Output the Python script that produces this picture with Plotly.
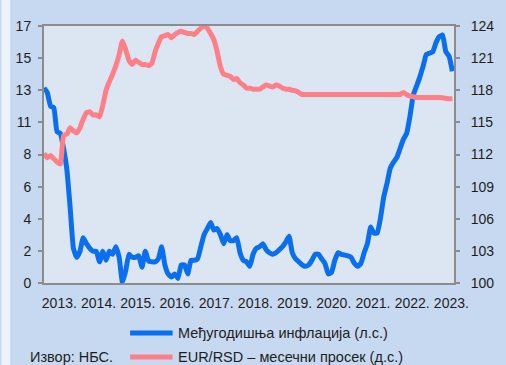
import plotly.graph_objects as go

years = ["2013.", "2014.", "2015.", "2016.", "2017.", "2018.", "2019.", "2020.", "2021.", "2022.", "2023."]

# monthly, Jan 2013 - Jun 2023
inflation = [
    12.9, 12.6, 11.7, 11.6, 10.0, 9.9, 8.9, 7.5, 5.0, 2.3, 1.7, 2.1,
    3.0, 2.6, 2.3, 2.1, 2.1, 1.4, 2.1, 1.5, 2.1, 1.9, 2.4, 1.7,
    0.05, 0.8, 1.9, 1.7, 1.7, 1.8, 1.05, 2.1, 1.45, 1.4, 1.4, 1.6,
    2.4, 1.2, 0.6, 0.4, 0.6, 0.3, 1.2, 1.2, 0.6, 1.5, 1.5, 1.6,
    2.4, 3.2, 3.6, 4.0, 3.5, 3.6, 3.2, 2.6, 3.2, 2.8, 2.8, 3.0,
    2.0, 1.5, 1.4, 1.1, 1.9, 2.3, 2.4, 2.6, 2.2, 2.0, 1.9, 2.0,
    2.2, 2.4, 2.7, 3.1, 2.0, 1.6, 1.4, 1.2, 1.1, 1.2, 1.5, 1.9,
    1.9, 1.6, 1.3, 0.6, 0.7, 1.5, 2.0, 1.9, 1.85, 1.8, 1.7, 1.3,
    1.1, 1.3, 2.0, 2.6, 3.7, 3.3, 3.3, 4.3, 5.7, 6.6, 7.6, 8.0,
    8.3, 8.9, 9.5, 9.9, 11.0, 12.4, 13.0, 13.6, 14.3, 15.1, 15.2, 15.3,
    15.9, 16.3, 16.4, 15.3, 15.0, 14.0,
]

eur_rsd = [
    112.1, 111.7, 111.9, 111.6, 111.3, 111.1, 113.8, 113.9, 114.5, 114.2, 114.0, 114.5,
    115.3, 115.9, 116.0, 115.7, 115.7, 115.5, 116.6, 118.0, 118.8, 119.5, 120.3, 121.3,
    122.6, 121.8, 120.8, 120.4, 120.8, 120.6, 120.4, 120.4, 120.3, 120.5, 121.6, 122.4,
    123.0, 123.1, 123.2, 122.9, 123.2, 123.4, 123.5, 123.4, 123.3, 123.3, 123.2, 123.5,
    123.8, 124.0, 123.8, 123.3, 122.7, 121.6, 120.2, 119.5, 119.4, 119.3, 119.0, 119.1,
    118.7, 118.5, 118.2, 118.2, 118.1, 118.1, 118.1, 118.3, 118.5, 118.4, 118.3, 118.5,
    118.4, 118.2, 118.1, 118.1, 118.0, 117.95, 117.8, 117.6, 117.6, 117.6, 117.6, 117.6,
    117.6, 117.6, 117.6, 117.6, 117.6, 117.6, 117.6, 117.6, 117.6, 117.6, 117.6, 117.6,
    117.6, 117.6, 117.6, 117.6, 117.6, 117.6, 117.6, 117.6, 117.6, 117.6, 117.6, 117.6,
    117.6, 117.6, 117.8, 117.6, 117.45, 117.4, 117.32, 117.32, 117.32, 117.32, 117.32, 117.32,
    117.32, 117.32, 117.3, 117.25, 117.2, 117.2,
]

left_ticks = ["0", "2", "4", "6", "8", "11", "13", "15", "17"]
right_ticks = ["100", "103", "106", "109", "112", "115", "118", "121", "124"]

name_infl = "Међугодишња инфлација (л.с.)"
name_eur = "EUR/RSD – месечни просек (д.с.)"
source = "Извор: НБС."

BLUE = "#0A6FEE"
PINK = "#FF7F88"
GRAY = "#8C8C8C"
TXT = "#1E1E1E"
FONT = "Liberation Sans, Arial, sans-serif"

months = list(range(len(inflation)))

fig = go.Figure()
fig.add_trace(go.Scatter(x=months, y=eur_rsd, yaxis="y2", mode="lines",
                         line=dict(color=PINK, width=5, shape="spline", smoothing=0.4),
                         name=name_eur, showlegend=False))
fig.add_trace(go.Scatter(x=months, y=inflation, yaxis="y", mode="lines",
                         line=dict(color=BLUE, width=5, shape="spline", smoothing=0.4),
                         name=name_infl, showlegend=False))

L, R, T, B = 44, 38, 26, 82
W, H = 506, 365
pw, ph = W - L - R, H - T - B


def px(xp):
    return (xp - L) / pw


def py(yp):
    return (H - B - yp) / ph


fig.update_layout(
    width=W, height=H,
    margin=dict(l=L, r=R, t=T, b=B, pad=0),
    paper_bgcolor="#C6D9F0",
    plot_bgcolor="#DCE6F2",
    font=dict(family=FONT, size=13, color=TXT),
    xaxis=dict(
        range=[0, 125.5],
        tickmode="array",
        tickvals=[4.7 + 12 * i for i in range(len(years))],
        ticktext=years,
        ticks="",
        showgrid=False, zeroline=False,
        showline=True, linecolor=GRAY, linewidth=2, mirror=True,
        ticklabelstandoff=6,
        tickfont=dict(size=14),
    ),
    yaxis=dict(
        range=[0, 17],
        tickmode="array",
        tickvals=[17 / 8 * i for i in range(len(left_ticks))],
        ticktext=left_ticks,
        ticks="outside", ticklen=4, tickcolor=GRAY, tickwidth=1.5,
        showgrid=False, zeroline=False,
        showline=True, linecolor=GRAY, linewidth=2, mirror=True,
        ticklabelstandoff=4,
        tickfont=dict(size=14),
    ),
    yaxis2=dict(
        range=[100, 124],
        overlaying="y", side="right",
        tickmode="array",
        tickvals=[100 + 3 * i for i in range(len(right_ticks))],
        ticktext=right_ticks,
        ticks="outside", ticklen=4, tickcolor=GRAY, tickwidth=1.5,
        showgrid=False, zeroline=False,
        showline=True, linecolor=GRAY, linewidth=2,
        ticklabelstandoff=8,
        tickfont=dict(size=14),
    ),
    showlegend=False,
)

shapes = [
    dict(type="rect", xref="paper", yref="paper", x0=px(0), x1=px(9), y0=py(H), y1=py(0),
         fillcolor="#EEF3FA", line=dict(width=0), layer="above"),
    dict(type="line", xref="paper", yref="paper", x0=px(133), x1=px(177), y0=py(333), y1=py(333),
         line=dict(color=BLUE, width=5)),
    dict(type="line", xref="paper", yref="paper", x0=px(133), x1=px(177), y0=py(357), y1=py(357),
         line=dict(color=PINK, width=5)),
]
fig.update_layout(shapes=shapes)

fig.add_annotation(xref="paper", yref="paper", x=px(180), y=py(333), text=name_infl,
                   showarrow=False, xanchor="left", yanchor="middle", font=dict(size=14.5))
fig.add_annotation(xref="paper", yref="paper", x=px(180), y=py(357), text=name_eur,
                   showarrow=False, xanchor="left", yanchor="middle", font=dict(size=14.5))
fig.add_annotation(xref="paper", yref="paper", x=px(27), y=py(357), text=source,
                   showarrow=False, xanchor="left", yanchor="middle", font=dict(size=14.5))

fig.write_html("out.html")
